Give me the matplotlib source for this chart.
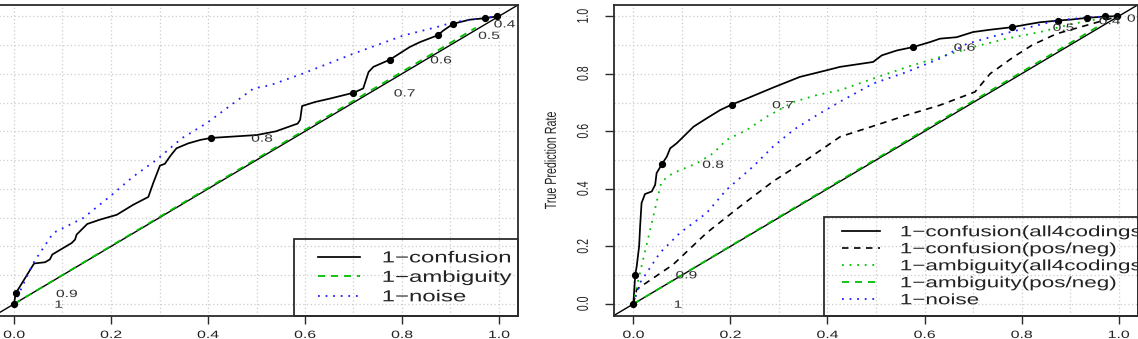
import matplotlib
matplotlib.use("Agg")
import matplotlib.pyplot as plt
from matplotlib.lines import Line2D
from matplotlib.legend_handler import HandlerLine2D
from matplotlib.patheffects import AbstractPathEffect
from matplotlib.transforms import Affine2D, offset_copy
from matplotlib.ticker import MultipleLocator, FixedLocator

plt.rcParams['font.family'] = ['Liberation Sans', 'DejaVu Sans']

# ---------------- data ----------------
x_ticks = [0.0, 0.2, 0.4, 0.6, 0.8, 1.0]
x_tick_labels = ["0.0", "0.2", "0.4", "0.6", "0.8", "1.0"]
y_ticks = [0.0, 0.2, 0.4, 0.6, 0.8, 1.0]
y_tick_labels = ["0.0", "0.2", "0.4", "0.6", "0.8", "1.0"]
y_label_right = "True Prediction Rate"

# left panel
left_labels = ["1\u2212confusion", "1\u2212ambiguity", "1\u2212noise"]
left_conf_x = [0.0, 0.0035, 0.040, 0.042, 0.064, 0.074, 0.079, 0.119, 0.126, 0.129, 0.151, 0.177,
               0.212, 0.246, 0.277, 0.287, 0.301, 0.311, 0.323, 0.335, 0.359, 0.384, 0.406, 0.500,
               0.540, 0.585, 0.590, 0.594, 0.621, 0.652, 0.700, 0.720, 0.731, 0.741, 0.775, 0.816,
               0.837, 0.874, 0.885, 0.906, 0.940, 0.971, 0.995, 1.0]
left_conf_y = [0.0, 0.037, 0.137, 0.141, 0.145, 0.155, 0.172, 0.212, 0.224, 0.241, 0.278, 0.293,
               0.310, 0.345, 0.372, 0.420, 0.481, 0.487, 0.516, 0.541, 0.558, 0.570, 0.577, 0.587,
               0.600, 0.627, 0.640, 0.688, 0.702, 0.714, 0.734, 0.749, 0.806, 0.824, 0.849, 0.893,
               0.910, 0.934, 0.950, 0.974, 0.988, 0.993, 0.999, 1.0]
left_amb_x = [0.0, 0.952]
left_amb_y = [0.0, 0.960]
left_noise_x = [0.0, 0.040, 0.081, 0.143, 0.198, 0.246, 0.294, 0.346, 0.397, 0.452, 0.494, 0.528,
                0.596, 0.700, 0.803, 0.871, 0.906, 0.954, 1.0]
left_noise_y = [0.0, 0.143, 0.247, 0.299, 0.374, 0.443, 0.501, 0.576, 0.628, 0.697, 0.749, 0.760,
                0.801, 0.870, 0.933, 0.962, 0.979, 0.991, 1.0]
left_cut_x = [0.0, 0.0035, 0.406, 0.700, 0.775, 0.874, 0.906, 0.971, 0.995]
left_cut_y = [0.0, 0.037, 0.577, 0.734, 0.849, 0.934, 0.974, 0.993, 0.999]
left_cut_labels = ["1", "0.9", "0.8", "0.7", "0.6", "0.5", "0.4"]   # the rest fall outside the box

# right panel
right_labels = ["1\u2212confusion(all4codings)", "1\u2212confusion(pos/neg)",
                "1\u2212ambiguity(all4codings)", "1\u2212ambiguity(pos/neg)", "1\u2212noise"]
right_conf4_x = [0.0, 0.004, 0.007, 0.012, 0.014, 0.017, 0.024, 0.038, 0.045, 0.048, 0.059, 0.069,
                 0.076, 0.089, 0.103, 0.124, 0.151, 0.179, 0.203, 0.234, 0.288, 0.343, 0.398, 0.426,
                 0.494, 0.512, 0.543, 0.577, 0.611, 0.632, 0.666, 0.700, 0.735, 0.781, 0.810, 0.838,
                 0.876, 0.900, 0.934, 0.971, 0.996, 1.0]
right_conf4_y = [0.0, 0.102, 0.131, 0.201, 0.270, 0.351, 0.382, 0.391, 0.414, 0.455, 0.486, 0.512,
                 0.541, 0.558, 0.581, 0.616, 0.645, 0.674, 0.693, 0.714, 0.752, 0.789, 0.812, 0.824,
                 0.841, 0.864, 0.881, 0.893, 0.910, 0.922, 0.927, 0.945, 0.953, 0.962, 0.971, 0.979,
                 0.985, 0.988, 0.994, 0.999, 1.0, 1.0]
right_confpn_x = [0.0, 0.007, 0.082, 0.151, 0.220, 0.288, 0.357, 0.426, 0.494, 0.563, 0.632, 0.704,
                  0.735, 0.783, 0.822, 0.872, 1.0]
right_confpn_y = [0.0, 0.051, 0.137, 0.247, 0.339, 0.426, 0.501, 0.581, 0.618, 0.656, 0.691, 0.737,
                  0.800, 0.858, 0.900, 0.939, 1.0]
right_amb4_x = [0.0, 0.007, 0.058, 0.082, 0.131, 0.165, 0.192, 0.234, 0.275, 0.330, 0.378, 0.426,
                0.494, 0.563, 0.632, 0.700, 0.769, 0.838, 0.906, 0.962, 1.0]
right_amb4_y = [0.0, 0.060, 0.425, 0.455, 0.489, 0.524, 0.570, 0.605, 0.651, 0.702, 0.726, 0.743,
                0.783, 0.823, 0.858, 0.893, 0.922, 0.945, 0.974, 0.991, 1.0]
right_ambpn_x = [0.0, 0.955]
right_ambpn_y = [0.0, 0.962]
right_noise_x = [0.0, 0.014, 0.055, 0.096, 0.151, 0.192, 0.247, 0.288, 0.330, 0.378, 0.426, 0.494,
                 0.563, 0.632, 0.687, 0.735, 0.803, 0.872, 0.941, 1.0]
right_noise_y = [0.0, 0.074, 0.178, 0.247, 0.316, 0.397, 0.478, 0.547, 0.605, 0.656, 0.703, 0.766,
                 0.806, 0.853, 0.904, 0.927, 0.956, 0.985, 0.997, 1.0]
right_cut_x = [0.0, 0.004, 0.059, 0.203, 0.577, 0.781, 0.876, 0.934, 0.971, 0.996]
right_cut_y = [0.0, 0.102, 0.486, 0.693, 0.893, 0.962, 0.985, 0.994, 0.999, 1.0]
right_cut_labels = ["1", "0.9", "0.8", "0.7", "0.6", "0.5", "0.4", "0.3"]  # the rest fall outside

# ---------------- styling ----------------
GREEN = "#00c000"
BLUE = "#2020ff"
FRAME = "#2b2b2b"
TXT = "#222222"
SX = 1.5          # horizontal stretch of the (resized) original


class HStretch(AbstractPathEffect):
    """Stretch text glyphs horizontally (the reference was resized wider)."""
    def __init__(self, sx=SX, anchor="center"):
        super().__init__()
        self.sx = sx
        self.anchor = anchor

    def draw_path(self, renderer, gc, tpath, affine, rgbFace=None):
        bb = tpath.get_extents(affine)
        if self.anchor == "left":
            a = affine.get_matrix()[0, 2]
        else:
            a = 0.5 * (bb.x0 + bb.x1)
        t = affine + Affine2D().translate(-a, 0).scale(self.sx, 1.0).translate(a, 0)
        renderer.draw_path(gc, tpath, t, rgbFace)


W, H = 1138, 339
fig = plt.figure(figsize=(W / 100, H / 100), dpi=100)


def px_axes(x0, x1, ytop=4.7, ybot=315.5):
    return fig.add_axes([x0 / W, (H - ybot) / H, (x1 - x0) / W, (ybot - ytop) / H])


axL = px_axes(-5.4, 518.4)
axR = px_axes(613.9, 1138.1)


def style(ax, show_y):
    ax.set_xlim(-0.04, 1.04)
    ax.set_ylim(-0.04, 1.04)
    ax.xaxis.set_major_locator(FixedLocator(x_ticks))
    ax.set_xticklabels(x_tick_labels)
    ax.yaxis.set_major_locator(FixedLocator(y_ticks))
    ax.set_yticklabels(y_tick_labels)
    ax.xaxis.set_minor_locator(MultipleLocator(0.1))
    ax.yaxis.set_minor_locator(MultipleLocator(0.1))
    ax.grid(which="both", color="#cdcdcd", linestyle=(0, (1, 2)), linewidth=0.9)
    ax.set_axisbelow(True)
    ax.tick_params(which="minor", length=0)
    ax.tick_params(axis="x", which="major", length=5.4, width=1.0, color=FRAME,
                   pad=5.0, labelsize=7.6, labelcolor=TXT, top=False)
    ax.tick_params(axis="y", which="major", length=6.5, width=1.0, color=FRAME,
                   pad=15.7, labelsize=7.6, labelcolor=TXT, right=False,
                   labelrotation=90, labelleft=show_y, left=show_y)
    for s in ax.spines.values():
        s.set_color(FRAME)
        s.set_linewidth(1.3)
    for lbl in ax.get_xticklabels():
        lbl.set_path_effects([HStretch(SX, "center")])
    for lbl in ax.get_yticklabels():
        lbl.set_path_effects([HStretch(SX, "center")])
        lbl.set_verticalalignment("center")
        lbl.set_horizontalalignment("center")


def cut_labels(ax, xs, ys, labels):
    ax.plot(xs, ys, linestyle="none", marker="o", ms=4.2, color="black", zorder=3)
    tr = offset_copy(ax.transData, fig=fig, x=29.0, y=-0.5, units="points")
    for x, y, s in zip(xs, ys, labels):
        t = ax.text(x, y, s, transform=tr, ha="left", va="center", fontsize=7.5,
                    color="#303030", clip_on=True, zorder=4)
        t.set_path_effects([HStretch(SX, "left")])


DASH = (0, (3.9, 3.3))
DOT = (0, (1, 3.2))

# ---- left panel ----
style(axL, False)
axL.plot([-0.04, 1.04], [-0.04, 1.04], color="black", lw=1.0, zorder=2)
axL.plot(left_conf_x, left_conf_y, color="black", lw=1.25, zorder=2.5)
cut_labels(axL, left_cut_x, left_cut_y, left_cut_labels)
axL.plot(left_amb_x, left_amb_y, color=GREEN, lw=1.3, linestyle=DASH, zorder=2.6)
axL.plot(left_noise_x, left_noise_y, color=BLUE, lw=1.3, linestyle=DOT, zorder=2.6)

hL = [Line2D([], [], color="black", lw=1.25),
      Line2D([], [], color=GREEN, lw=1.3, linestyle=DASH),
      Line2D([], [], color=BLUE, lw=1.3, linestyle=DOT)]
legL = axL.legend(hL, left_labels, loc="lower left", bbox_to_anchor=(0.5716, 0.0, 0.4284, 0.3),
                  mode="expand", borderaxespad=0.0, fontsize=11.5, fancybox=False,
                  edgecolor=FRAME, facecolor="none", framealpha=1.0, borderpad=0.7,
                  labelspacing=0.28, handlelength=3.43, handletextpad=1.36,
                  handler_map={Line2D: HandlerLine2D(xpad=0.8)})
legL.get_frame().set_linewidth(1.3)
for t in legL.get_texts():
    t.set_path_effects([HStretch(SX, "left")])
    t.set_color(TXT)

# ---- right panel ----
style(axR, True)
axR.set_ylabel(y_label_right, fontsize=7.7, color=TXT)
axR.yaxis.label.set_verticalalignment("center")
axR.yaxis.set_label_coords(-0.12, 0.5)
axR.yaxis.label.set_path_effects([HStretch(SX, "center")])
axR.plot([-0.04, 1.04], [-0.04, 1.04], color="black", lw=1.0, zorder=2)
axR.plot(right_conf4_x, right_conf4_y, color="black", lw=1.25, zorder=2.5)
cut_labels(axR, right_cut_x, right_cut_y, right_cut_labels)
axR.plot(right_confpn_x, right_confpn_y, color="black", lw=1.2, linestyle=DASH, zorder=2.6)
axR.plot(right_amb4_x, right_amb4_y, color=GREEN, lw=1.3, linestyle=DOT, zorder=2.6)
axR.plot(right_ambpn_x, right_ambpn_y, color=GREEN, lw=1.3, linestyle=DASH, zorder=2.6)
axR.plot(right_noise_x, right_noise_y, color=BLUE, lw=1.3, linestyle=DOT, zorder=2.6)

hR = [Line2D([], [], color="black", lw=1.25),
      Line2D([], [], color="black", lw=1.2, linestyle=DASH),
      Line2D([], [], color=GREEN, lw=1.3, linestyle=DOT),
      Line2D([], [], color=GREEN, lw=1.3, linestyle=DASH),
      Line2D([], [], color=BLUE, lw=1.3, linestyle=DOT)]
legR = axR.legend(hR, right_labels, loc="lower left", bbox_to_anchor=(0.4008, 0.0, 0.5992, 0.4),
                  mode="expand", borderaxespad=0.0, fontsize=10.8, fancybox=False,
                  edgecolor=FRAME, facecolor="none", framealpha=1.0, borderpad=0.55,
                  labelspacing=0.2, handlelength=3.2, handletextpad=1.3,
                  handler_map={Line2D: HandlerLine2D(xpad=0.62)})
legR.get_frame().set_linewidth(1.3)
for t in legR.get_texts():
    t.set_path_effects([HStretch(SX, "left")])
    t.set_color(TXT)

fig.savefig("out.png", dpi=100)
